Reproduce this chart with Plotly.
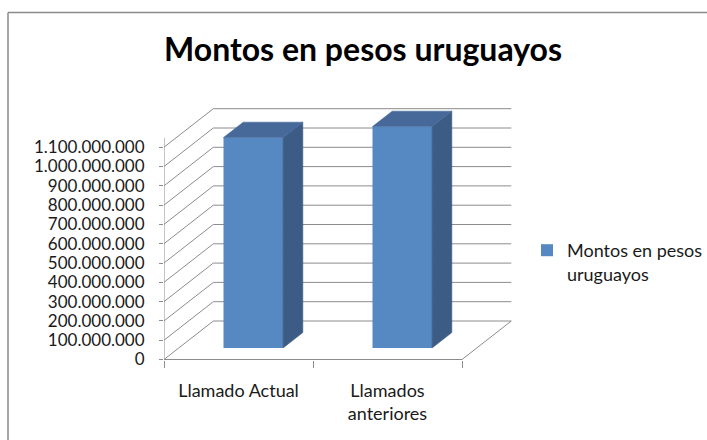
import plotly.graph_objects as go

# ---------------- data ----------------
categories = ["Llamado Actual", "Llamados<br>anteriores"]
values = [1090000000, 1147000000]
series_name = "Montos en pesos<br>uruguayos"
tick_values = [i * 100000000 for i in range(12)]
tick_labels = [f"{v:,}".replace(",", ".") for v in tick_values]
title_text = "Montos en pesos uruguayos"

# ---------------- geometry (pseudo 3-D, Excel style) ----------------
W, H = 707, 440
L, R, T, B = 164, 195, 108, 80
PW, PH = W - L - R, H - T - B
PX_CAT = 149.0            # px per category on the front plane
PX_VAL = 19.3 / 1e8       # px per value unit
DX_PX, DY_PX = 49.3, 38.5  # depth offset of the back wall (px)

DX = DX_PX / PX_CAT
DY = DY_PX / PX_VAL
ymin = -0.5 / PX_VAL
ymax = ymin + PH / PX_VAL
xmax = PW / PX_CAT
ncat = len(categories)

d0, depth, bw = 0.3, 0.4, 0.4   # bar depth position / depth / width (gap 150%)
axis_top = 1.15e9

FRONT = "#5689C2"
TOP = "#46699A"
SIDE = "#3C5C86"
GRID = "#8C8C8C"
TXT = "#1a1a1a"
FONT = "Lato"


def px2paper(px, py):
    return (px - L) / PW, ((T + PH) - py) / PH


fig = go.Figure()

# front faces of bars
xc = [i + 0.5 + d0 * DX for i in range(ncat)]
fig.add_trace(go.Bar(
    x=xc, y=values, base=d0 * DY, width=bw, name=series_name,
    marker=dict(color=FRONT, line=dict(width=0)), showlegend=True,
    hoverinfo="skip"))

# side and top faces
sx, sy, tx, ty = [], [], [], []
for i, v in enumerate(values):
    xl = i + 0.5 + d0 * DX - bw / 2
    xr = xl + bw
    yb = d0 * DY
    yt = v + d0 * DY
    ddx, ddy = depth * DX, depth * DY
    sx += [xr, xr, xr + ddx, xr + ddx, xr, None]
    sy += [yb, yt, yt + ddy, yb + ddy, yb, None]
    tx += [xl, xr, xr + ddx, xl + ddx, xl, None]
    ty += [yt, yt, yt + ddy, yt + ddy, yt, None]
fig.add_trace(go.Scatter(x=sx, y=sy, fill="toself", fillcolor=SIDE, mode="lines",
                         line=dict(width=0.6, color=SIDE), showlegend=False, hoverinfo="skip"))
fig.add_trace(go.Scatter(x=tx, y=ty, fill="toself", fillcolor=TOP, mode="lines",
                         line=dict(width=0.6, color=TOP), showlegend=False, hoverinfo="skip"))

# walls, floor and axis lines (below the bars)
shapes = []
gl = dict(color=GRID, width=1)
for t in tick_values:
    shapes.append(dict(type="line", xref="x", yref="y", x0=DX, y0=t + DY, x1=ncat + DX, y1=t + DY,
                       line=gl, layer="below"))
    shapes.append(dict(type="line", xref="x", yref="y", x0=0, y0=t, x1=DX, y1=t + DY,
                       line=gl, layer="below"))
shapes.append(dict(type="line", xref="x", yref="y", x0=0, y0=0, x1=ncat, y1=0, line=gl, layer="below"))
shapes.append(dict(type="line", xref="x", yref="y", x0=ncat, y0=0, x1=ncat + DX, y1=DY, line=gl, layer="below"))
shapes.append(dict(type="line", xref="x", yref="y", x0=0, y0=0, x1=0, y1=axis_top, line=gl, layer="below"))

# outer chart border (top and left edges visible)
bx0, by0 = px2paper(8, 12.5)
bx1, _ = px2paper(707, 12.5)
_, by1 = px2paper(8, 440)
border = dict(color="#8a8a8a", width=1.5)
shapes.append(dict(type="line", xref="paper", yref="paper", x0=bx0, y0=by0, x1=bx1, y1=by0, line=border))
shapes.append(dict(type="line", xref="paper", yref="paper", x0=bx0, y0=by0, x1=bx0, y1=by1, line=border))

lx, ly = px2paper(527, 232)

fig.update_layout(
    width=W, height=H,
    margin=dict(l=L, r=R, t=T, b=B, pad=0, autoexpand=False),
    paper_bgcolor="white", plot_bgcolor="white",
    font=dict(family=FONT, size=18, color=TXT),
    title=dict(text=title_text, x=363 / W, xanchor="center", xref="container",
               y=1 - 50 / H, yanchor="middle",
               font=dict(family=FONT, size=32, color="#000000", weight="bold")),
    shapes=shapes,
    showlegend=True,
    legend=dict(x=lx, y=ly, xanchor="left", yanchor="top", valign="top",
                font=dict(family=FONT, size=18, color=TXT), bgcolor="rgba(0,0,0,0)",
                itemclick=False, itemdoubleclick=False),
    xaxis=dict(range=[0, xmax], tickvals=[i + 0.5 for i in range(ncat)], ticktext=categories,
               ticks="", showgrid=False, zeroline=False, showline=False, fixedrange=True,
               tickfont=dict(family=FONT, size=18, color=TXT), ticklabelstandoff=18,
               minor=dict(tickvals=list(range(ncat + 1)), ticks="outside", ticklen=7,
                          tickcolor=GRID, tickwidth=1, showgrid=False),
               automargin=False),
    yaxis=dict(range=[ymin, ymax], tickvals=tick_values, ticktext=tick_labels,
               ticks="outside", ticklen=4, tickcolor=GRID, tickwidth=1,
               showgrid=False, zeroline=False, showline=False, fixedrange=True,
               tickfont=dict(family=FONT, size=17, color=TXT), ticklabelstandoff=11,
               automargin=False),
)

fig.write_html("out.html",
               config={"displayModeBar": False, "staticPlot": True},
               post_script="document.body.style.margin='0';document.body.style.overflow='hidden';")
